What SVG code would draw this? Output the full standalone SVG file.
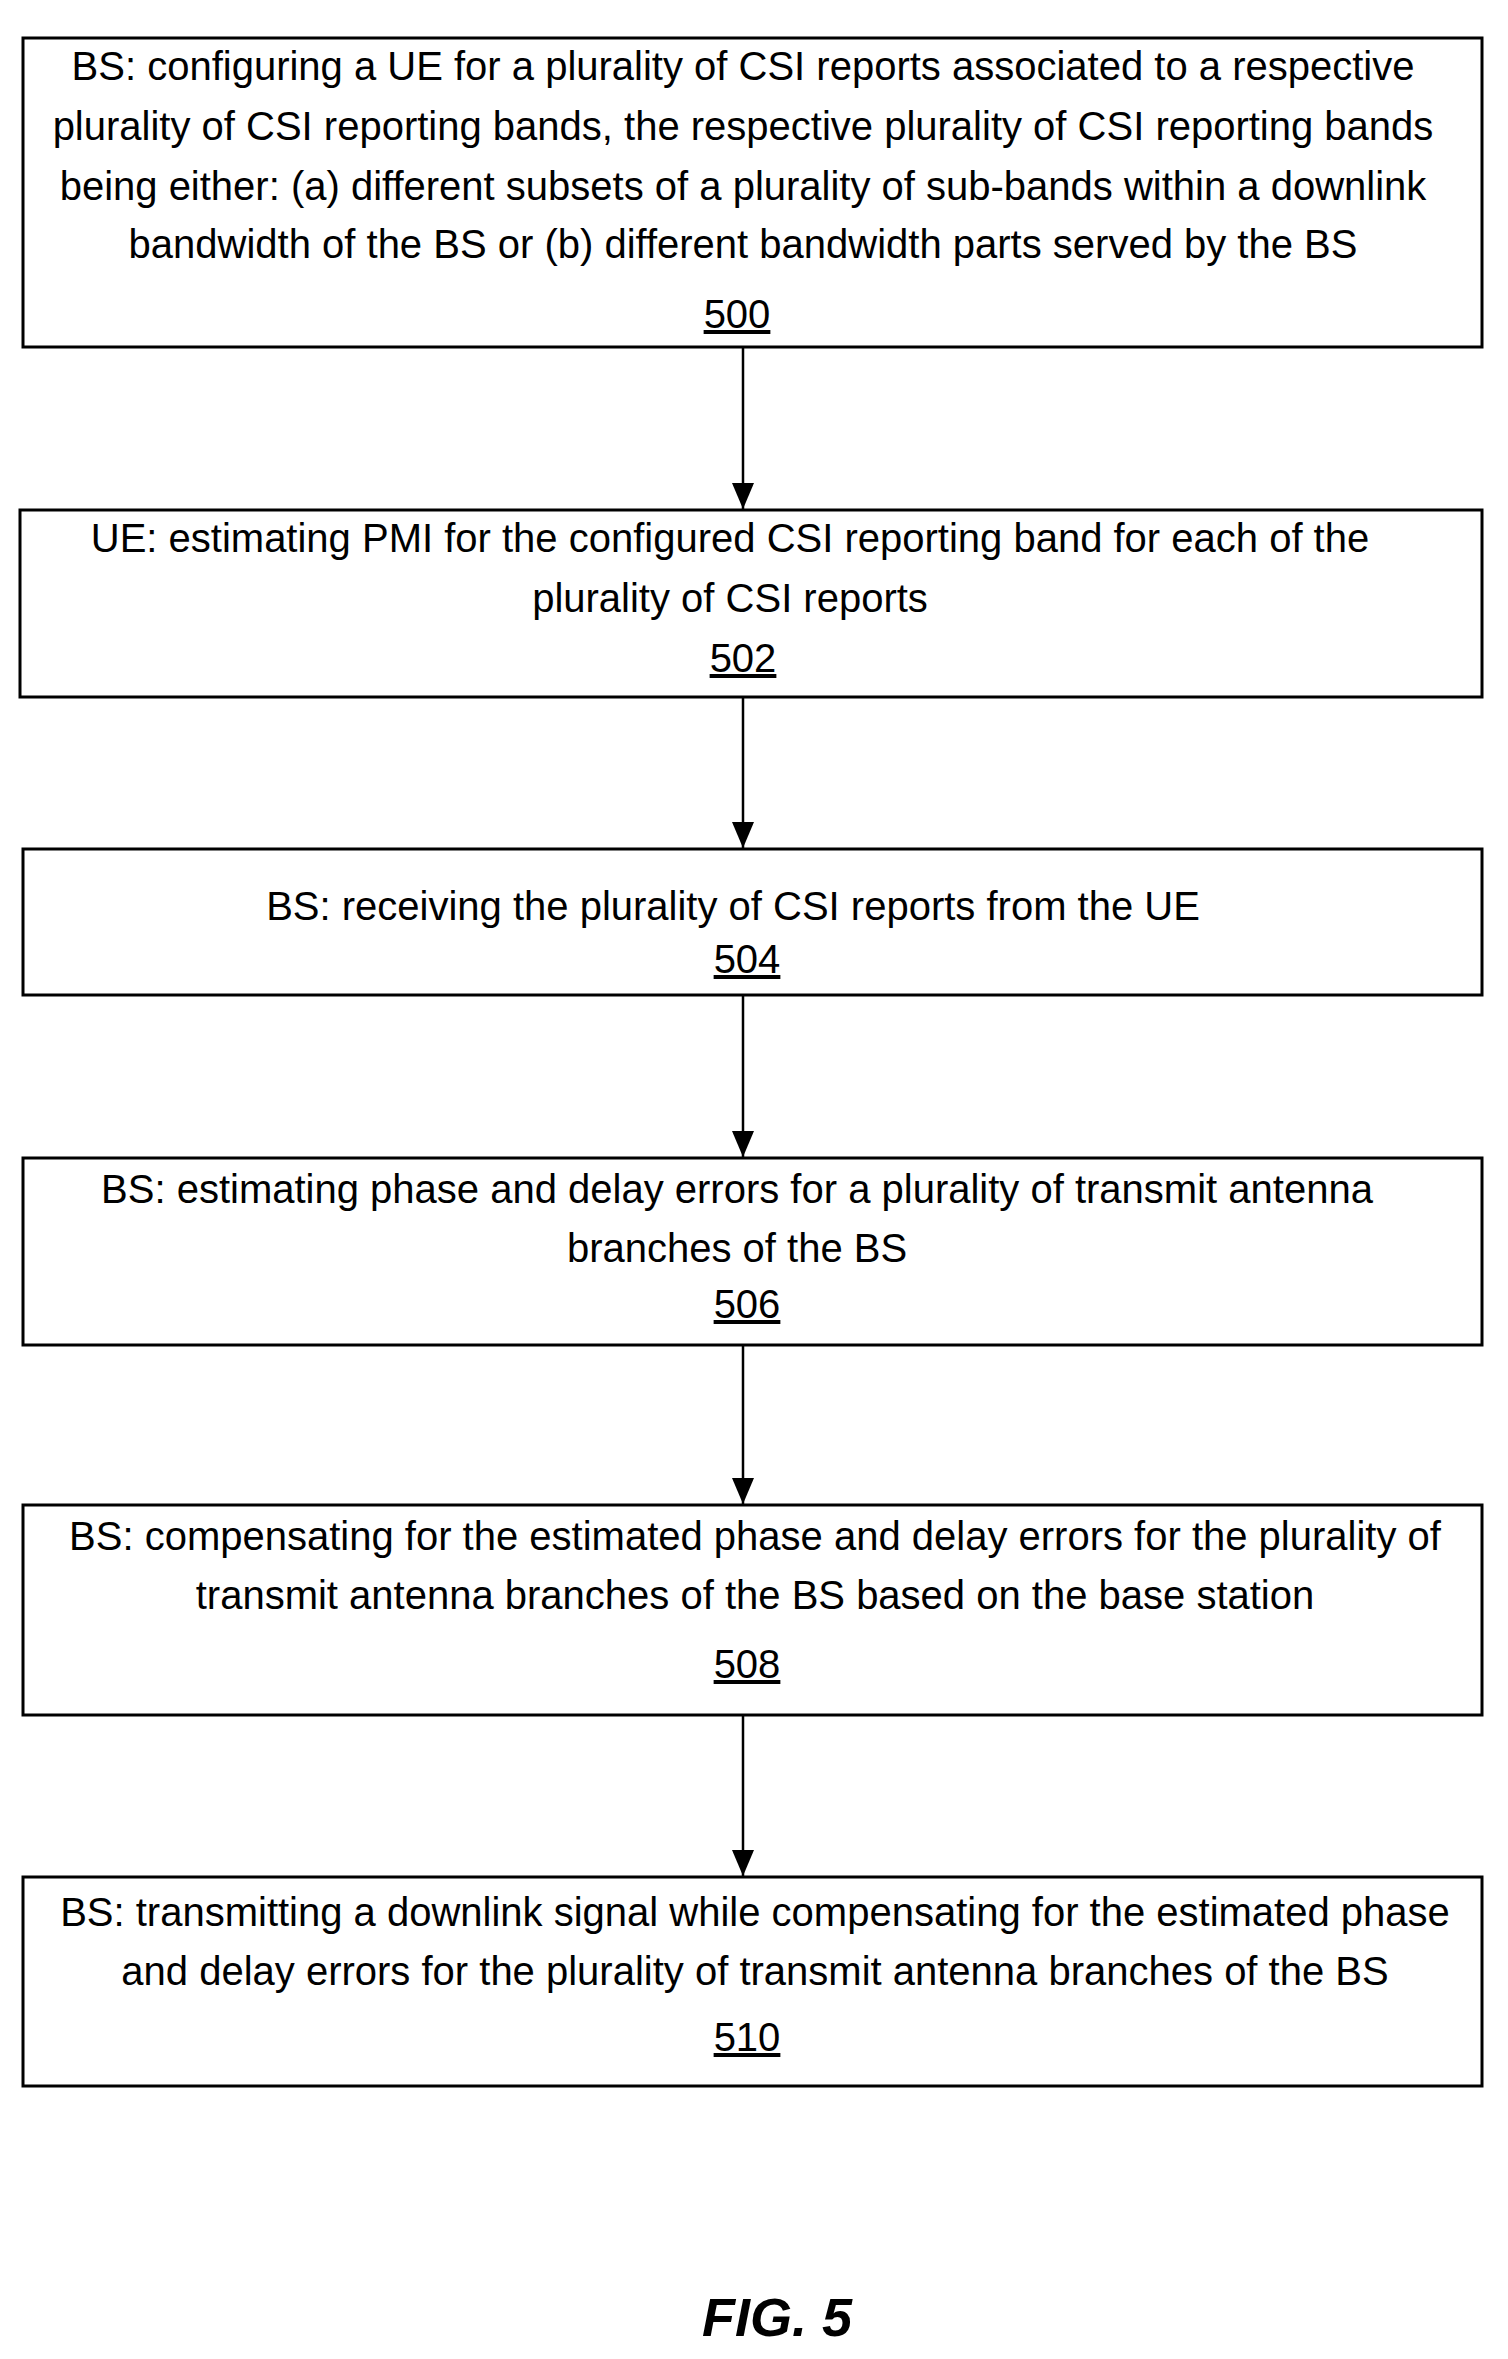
<svg xmlns="http://www.w3.org/2000/svg" width="1508" height="2359" viewBox="0 0 1508 2359">
<style>
.b{fill:#fff;stroke:#000;stroke-width:3}
text{font-family:"Liberation Sans",Arial,sans-serif;font-size:40px;text-anchor:middle;fill:#000}
.n{text-decoration:underline}
.c{stroke:#000;stroke-width:2.5;fill:none}
</style>
<defs><marker id="a" markerWidth="26" markerHeight="22" refX="26" refY="11" orient="auto" markerUnits="userSpaceOnUse"><path d="M0,0 L26,11 L0,22 Z" fill="#000"/></marker></defs>
<rect width="1508" height="2359" fill="#fff"/>
<g id="connectors">
<line class="c" x1="743" y1="347" x2="743" y2="509" marker-end="url(#a)"/>
<line class="c" x1="743" y1="697" x2="743" y2="848" marker-end="url(#a)"/>
<line class="c" x1="743" y1="995" x2="743" y2="1157" marker-end="url(#a)"/>
<line class="c" x1="743" y1="1345" x2="743" y2="1504" marker-end="url(#a)"/>
<line class="c" x1="743" y1="1715" x2="743" y2="1876" marker-end="url(#a)"/>
</g>
<g id="n500"><rect class="b" x="23" y="38" width="1459" height="309"/>
<text x="743" y="80">BS: configuring a UE for a plurality of CSI reports associated to a respective</text>
<text x="743" y="140">plurality of CSI reporting bands, the respective plurality of CSI reporting bands</text>
<text x="743" y="200">being  either: (a) different subsets of a plurality of sub-bands within a downlink</text>
<text x="743" y="258">bandwidth of the BS or (b) different bandwidth parts served by the BS</text>
<text class="n" x="737" y="328">500</text></g>
<g id="n502"><rect class="b" x="20" y="510" width="1462" height="187"/>
<text x="730" y="552">UE: estimating PMI for the configured CSI reporting band for each of  the</text>
<text x="730" y="612">plurality of CSI reports</text>
<text class="n" x="743" y="672">502</text></g>
<g id="n504"><rect class="b" x="23" y="849" width="1459" height="146"/>
<text x="733" y="920">BS: receiving the plurality of CSI reports from the UE</text>
<text class="n" x="747" y="973">504</text></g>
<g id="n506"><rect class="b" x="23" y="1158" width="1459" height="187"/>
<text x="737" y="1203">BS: estimating phase and delay errors for a plurality of transmit antenna</text>
<text x="737" y="1262">branches of the BS</text>
<text class="n" x="747" y="1318">506</text></g>
<g id="n508"><rect class="b" x="23" y="1505" width="1459" height="210"/>
<text x="755" y="1550">BS: compensating for the estimated phase and delay errors for the plurality of</text>
<text x="755" y="1609">transmit antenna branches of the BS based on the base station</text>
<text class="n" x="747" y="1678">508</text></g>
<g id="n510"><rect class="b" x="23" y="1877" width="1459" height="209"/>
<text x="755" y="1926">BS: transmitting a downlink signal while compensating for the estimated phase</text>
<text x="755" y="1985">and delay errors for the plurality of transmit antenna branches of the BS</text>
<text class="n" x="747" y="2051">510</text></g>
<text x="777" y="2336" style="font-size:54px;font-style:italic;font-weight:bold">FIG. 5</text>
</svg>
